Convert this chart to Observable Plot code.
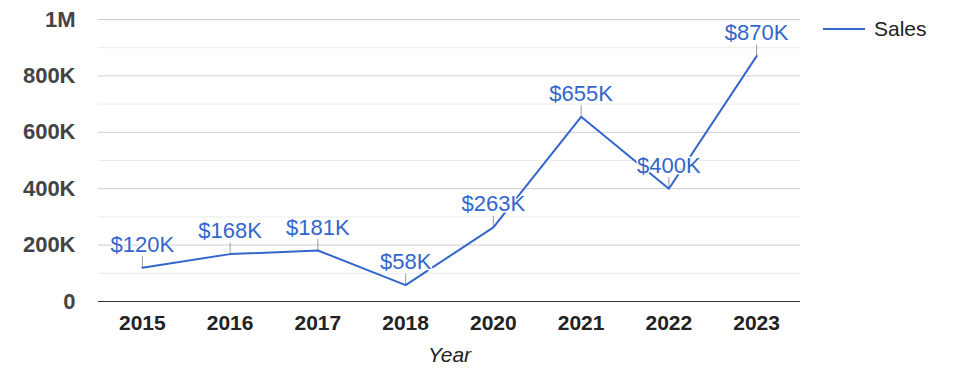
<!DOCTYPE html>
<html>
<head>
<meta charset="utf-8">
<script src="https://cdn.jsdelivr.net/npm/d3@7"></script>
<script src="https://cdn.jsdelivr.net/npm/@observablehq/plot@0.6"></script>
<style>
  html, body { margin: 0; padding: 0; background: #fff; }
  #wrap { position: relative; width: 975px; height: 378px; font-family: Arial, "Liberation Sans", sans-serif; }
  #legend { position: absolute; left: 823px; top: 17px; display: flex; align-items: center; font-size: 21px; color: #222; }
  #legend .sw { width: 42px; height: 2px; background: #3366cc; margin-right: 9px; }
  svg text { font-family: Arial, "Liberation Sans", sans-serif; }
</style>
</head>
<body>
<div id="wrap">
  <div id="chart"></div>
  <div id="legend"><span class="sw"></span><span>Sales</span></div>
</div>
<script>
const years = ["2015", "2016", "2017", "2018", "2020", "2021", "2022", "2023"];
const sales = [120000, 168000, 181000, 58000, 263000, 655000, 400000, 870000];
const labels = ["$120K", "$168K", "$181K", "$58K", "$263K", "$655K", "$400K", "$870K"];
const majorTicks = [0, 200000, 400000, 600000, 800000, 1000000];
const minorTicks = [100000, 300000, 500000, 700000, 900000];
const yTickLabels = ["0", "200K", "400K", "600K", "800K", "1M"];
const seriesName = "Sales";
const xTitle = "Year";

const data = years.map((y, i) => ({ year: y, value: sales[i], label: labels[i] }));
const blue = "#3366cc";

const chart = Plot.plot({
  width: 975,
  height: 378,
  marginLeft: 98,
  marginRight: 175,
  marginTop: 19,
  marginBottom: 77,
  x: { type: "point", domain: years, padding: 0.5, round: false },
  y: { domain: [0, 1000000] },
  marks: [
    Plot.ruleY(minorTicks, { stroke: "#ebebeb" }),
    Plot.ruleY(majorTicks.filter(d => d > 0), { stroke: "#cccccc" }),
    Plot.axisY(majorTicks, {
      tickSize: 0, tickPadding: 23, label: null,
      tickFormat: (d) => yTickLabels[majorTicks.indexOf(d)],
      fontSize: 22, fontWeight: "bold", fill: "#444"
    }),
    Plot.axisX({
      tickSize: 0, tickPadding: 14, label: null,
      fontSize: 21, fontWeight: "bold", fill: "#222"
    }),
    Plot.text([xTitle], {
      frameAnchor: "bottom", lineAnchor: "middle", dy: 54, fontSize: 21, fontStyle: "italic", fill: "#222"
    }),
    Plot.ruleY([0], { stroke: "#333" }),
    Plot.ruleX(data, { x: "year", y1: "value", y2: "value", insetBottom: 11, stroke: "#999" }),
    Plot.line(data, { x: "year", y: "value", stroke: blue, strokeWidth: 2 }),
    Plot.text(data, {
      x: "year", y: "value", text: "label", dy: -23,
      fontSize: 22, fill: blue, stroke: "white", strokeWidth: 3, paintOrder: "stroke"
    })
  ]
});
document.getElementById("chart").appendChild(chart);
</script>
</body>
</html>
